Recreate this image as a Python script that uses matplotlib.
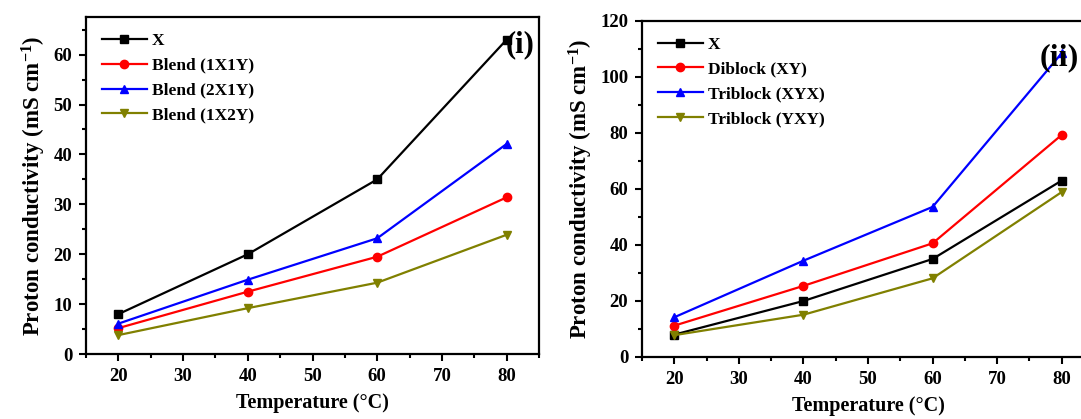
import matplotlib
matplotlib.use("Agg")
import matplotlib.pyplot as plt
from matplotlib.ticker import MultipleLocator

# data
temps = [20, 40, 60, 80]

# panel (i)
x_i = [8.0, 20.0, 35.0, 63.0]
blend_1x1y = [5.2, 12.5, 19.5, 31.4]
blend_2x1y = [6.1, 14.9, 23.2, 42.1]
blend_1x2y = [3.8, 9.2, 14.3, 23.9]

# panel (ii)
x_ii = [8.0, 20.0, 35.0, 63.0]
diblock_xy = [11.2, 25.4, 40.6, 79.3]
triblock_xyx = [14.2, 34.4, 53.6, 108.5]
triblock_yxy = [7.8, 15.1, 28.1, 58.9]

labels_i = ["X", "Blend (1X1Y)", "Blend (2X1Y)", "Blend (1X2Y)"]
labels_ii = ["X", "Diblock (XY)", "Triblock (XYX)", "Triblock (YXY)"]
colors = ["black", "#ff0000", "#0000ff", "#808000"]
markers = ["s", "o", "^", "v"]

plt.rcParams["font.family"] = "Liberation Serif"
plt.rcParams["font.weight"] = "bold"
plt.rcParams["mathtext.fontset"] = "custom"
plt.rcParams["mathtext.rm"] = "Liberation Serif:bold"
plt.rcParams["mathtext.bf"] = "Liberation Serif:bold"
plt.rcParams["mathtext.default"] = "bf"

fig = plt.figure(figsize=(10.81, 4.19), dpi=100)
ax1 = fig.add_axes([0.0796, 0.155, 0.419, 0.804])
ax2 = fig.add_axes([0.594, 0.148, 0.418, 0.802])


def style(ax, ymax, ymajor):
    ax.set_xlim(15, 85)
    ax.set_ylim(0, ymax)
    ax.xaxis.set_major_locator(MultipleLocator(10))
    ax.xaxis.set_minor_locator(MultipleLocator(5))
    ax.yaxis.set_major_locator(MultipleLocator(ymajor))
    ax.yaxis.set_minor_locator(MultipleLocator(ymajor / 2))
    ax.tick_params(which="both", direction="out", top=False, right=False,
                   width=1.5, labelsize=13.5)
    ax.tick_params(which="major", length=5, pad=5)
    ax.tick_params(which="minor", length=3)
    for s in ax.spines.values():
        s.set_linewidth(1.6)
    for lab in ax.get_xticklabels() + ax.get_yticklabels():
        lab.set_fontweight("bold")
    ax.set_xlabel("Temperature (\u00b0C)", fontsize=14.5, fontweight="bold", labelpad=6)
    ax.set_ylabel(r"Proton conductivity (mS cm$^{\mathbf{-1}}$)", fontsize=16.5,
                  fontweight="bold", labelpad=4)


series_i = [x_i, blend_1x1y, blend_2x1y, blend_1x2y]
for ys, lab, c, m in zip(series_i, labels_i, colors, markers):
    ax1.plot(temps, ys, color=c, marker=m, lw=1.6, ms=6, label=lab)

series_ii = [x_ii, diblock_xy, triblock_xyx, triblock_yxy]
for ys, lab, c, m in zip(series_ii, labels_ii, colors, markers):
    ax2.plot(temps, ys, color=c, marker=m, lw=1.6, ms=6, label=lab)

style(ax1, 67.5, 10)
style(ax2, 120, 20)

for ax in (ax1, ax2):
    ax.legend(loc="upper left", frameon=False, handlelength=2.6,
              labelspacing=0.5, handletextpad=0.3, borderaxespad=0.5,
              prop={"family": "Liberation Serif", "weight": "bold", "size": 12.5})

ax1.text(0.99, 0.96, "(i)", transform=ax1.transAxes, ha="right", va="top",
         fontsize=22, fontweight="bold")
ax2.text(0.966, 0.935, "(ii)", transform=ax2.transAxes, ha="right", va="top",
         fontsize=23, fontweight="bold")

fig.savefig("out.png", dpi=100)
